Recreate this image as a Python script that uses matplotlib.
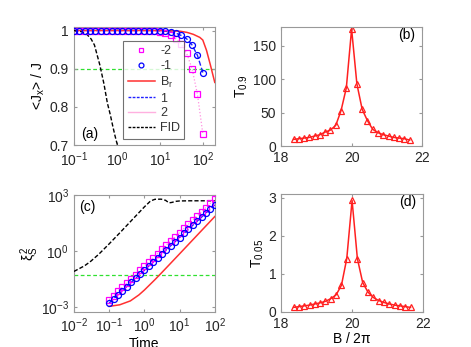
import numpy as np
import matplotlib
matplotlib.use('Agg')
from matplotlib import pyplot as plt

plt.rcParams['font.family'] = ['Liberation Sans', 'DejaVu Sans']
plt.rcParams['mathtext.fontset'] = 'custom'
plt.rcParams['mathtext.rm'] = 'Liberation Sans'
plt.rcParams['mathtext.it'] = 'Liberation Sans'

# sample times for the marker series
t_mark = [0.1, 0.133, 0.178, 0.237, 0.316, 0.422, 0.562, 0.75, 1.0, 1.33, 1.78, 2.37,
          3.16, 4.22, 5.62, 7.5, 10, 13.3, 17.8, 23.7, 31.6, 42.2, 56.2, 75, 100]

# (a) polarisation
jx_m2 = [1, 1, 1, 1, 1, 1, 1, 1, 1, 1, 1, 1, 1, 1, 1, 0.999, 0.997, 0.993, 0.987,
         0.978, 0.965, 0.94, 0.90, 0.833, 0.73]
jx_m1 = [1, 1, 1, 1, 1, 1, 1, 1, 1, 1, 1, 1, 1, 1, 1, 1, 0.999, 0.998, 0.996,
         0.993, 0.987, 0.978, 0.962, 0.935, 0.89]
t_br = [0.1, 1, 10, 20, 30, 43, 60, 85, 100, 122, 150, 190]
jx_br = [1, 1, 1, 0.999, 0.998, 0.995, 0.99, 0.982, 0.975, 0.948, 0.91, 0.864]
t_fid = [0.1, 0.15, 0.2, 0.25, 0.3, 0.4, 0.5, 0.6, 0.7, 0.8, 0.9, 1.0, 1.1]
jx_fid = [1.0, 0.997, 0.99, 0.978, 0.962, 0.91, 0.86, 0.81, 0.78, 0.75, 0.725, 0.705, 0.69]

# (c) squeezing
xi_m2 = [0.0024, 0.0040, 0.0068, 0.0114, 0.0191, 0.0321, 0.054, 0.0905, 0.152, 0.255,
         0.428, 0.72, 1.21, 2.03, 3.40, 5.7, 9.6, 16.1, 27, 45, 76, 128, 214, 360, 605]
xi_m1 = [0.0016, 0.0027, 0.0045, 0.0075, 0.0124, 0.0206, 0.034, 0.056, 0.093, 0.155,
         0.256, 0.423, 0.70, 1.16, 1.92, 3.18, 5.26, 8.7, 14.4, 23.8, 39.4, 65, 108, 179, 296]
t_br_c = [0.1, 0.2, 0.4, 0.7, 1, 2, 3, 5, 10, 20, 50, 100]
xi_br = [0.00107, 0.0013, 0.0021, 0.0044, 0.008, 0.029, 0.064, 0.176, 0.7, 2.8, 17.5, 70]
t_fid_c = [0.01, 0.02, 0.03, 0.05, 0.1, 0.2, 0.5, 1.0, 1.5, 2.0, 3.0, 4.0, 5.0, 6.0,
           8.0, 10, 20, 50, 100]
xi_fid = [0.08, 0.16, 0.28, 0.65, 2.4, 9.3, 58, 230, 480, 590, 600, 520, 380, 400,
          460, 480, 490, 490, 490]

# (b), (d) thresholds vs field
B = [18.35, 18.5, 18.65, 18.8, 18.95, 19.1, 19.25, 19.4, 19.55, 19.7, 19.85, 20.0,
     20.15, 20.3, 20.45, 20.6, 20.75, 20.9, 21.05, 21.2, 21.35, 21.5, 21.65]
T09 = [10, 11, 12, 13, 15, 17, 21, 24, 31, 53, 87, 175,
       93, 55, 38, 25, 20, 17, 15, 13, 12, 11, 9]
T005 = [0.12, 0.14, 0.16, 0.18, 0.21, 0.24, 0.28, 0.35, 0.45, 0.70, 1.40, 2.93,
        1.40, 0.77, 0.52, 0.38, 0.30, 0.25, 0.21, 0.18, 0.16, 0.14, 0.12]

fs = 10
fig = plt.figure(figsize=(4.71, 3.47), dpi=100)
axa = fig.add_axes([0.157, 0.582, 0.299, 0.340])
axb = fig.add_axes([0.597, 0.579, 0.299, 0.343])
axc = fig.add_axes([0.157, 0.101, 0.299, 0.337])
axd = fig.add_axes([0.597, 0.101, 0.301, 0.340])

for ax in [axa, axb, axc, axd]:
    for s in ax.spines.values():
        s.set_color('0.6')
        s.set_linewidth(0.8)
    ax.tick_params(direction='in', length=2.5, color='0.6', labelsize=fs,
                   labelcolor='0.15', which='both', top=True, right=True)
    ax.minorticks_off()

# (a)
axa.plot(t_mark, jx_m2, color='#ff90e0', lw=0.9, ls=':', zorder=2)
axa.plot(t_mark, jx_m1, color='#2020ff', lw=1.0, ls='--', zorder=2)
axa.plot(t_br, jx_br, color='#ff3030', lw=1.1, label='B$_r$', zorder=3)
axa.plot(t_fid, jx_fid, color='k', lw=1.0, ls='--', dashes=(3, 1.5), zorder=3)
axa.plot(t_mark, jx_m2, ls='none', marker='s', ms=4, mfc='none', mec='#ff00ff',
         mew=0.9, zorder=4)
axa.plot(t_mark, jx_m1, ls='none', marker='o', ms=4.3, mfc='none', mec='#0000ff',
         mew=0.9, zorder=4)
axa.axhline(0.9, color='#30e030', lw=0.9, ls='--', dashes=(3, 2), zorder=1)
axa.set_xscale('log')
axa.minorticks_off()
axa.set_xlim(0.1, 190)
axa.set_ylim(0.7, 1.009)
axa.set_xticks([0.1, 1, 10, 100])
axa.set_yticks([0.7, 0.8, 0.9, 1.0])
axa.set_yticklabels(['0.7', '0.8', '0.9', '1'])
axa.set_ylabel(r'<J$_x$> / J', fontsize=fs, labelpad=2)
axa.text(0.05, 0.06, '(a)', transform=axa.transAxes, fontsize=fs)

handles = [
    plt.Line2D([], [], ls='none', marker='s', ms=3.5, mfc='none', mec='#ff00ff', mew=0.9),
    plt.Line2D([], [], ls='none', marker='o', ms=3.5, mfc='none', mec='#0000ff', mew=0.9),
    plt.Line2D([], [], color='#ff3030', lw=1.1),
    plt.Line2D([], [], color='#2020ff', lw=1.0, ls='--', dashes=(2, 1)),
    plt.Line2D([], [], color='#ffb0e0', lw=1.0),
    plt.Line2D([], [], color='k', lw=1.0, ls='--', dashes=(2, 1)),
]
leg = axa.legend(handles, ['-2', '-1', 'B$_r$', '1', '2', 'FID'],
                 loc='lower left', bbox_to_anchor=(0.35, 0.055), fontsize=9,
                 frameon=True, fancybox=False, edgecolor='0.3', handlelength=2.2,
                 handletextpad=0.4, borderpad=0.35, labelspacing=0.22,
                 borderaxespad=0)
leg.get_frame().set_linewidth(0.8)
for txt in leg.get_texts():
    txt.set_color('0.2')

# (c)
axc.plot(t_mark, xi_m2, color='#ff90e0', lw=0.9, ls=':', zorder=2)
axc.plot(t_mark, xi_m1, color='#2020ff', lw=1.0, ls='--', zorder=2)
axc.plot(t_br_c, xi_br, color='#ff3030', lw=1.1, zorder=3)
axc.plot(t_fid_c, xi_fid, color='k', lw=1.0, ls='--', dashes=(3, 1.5), zorder=3)
axc.plot(t_mark, xi_m2, ls='none', marker='s', ms=4, mfc='none', mec='#ff00ff',
         mew=0.9, zorder=4)
axc.plot(t_mark, xi_m1, ls='none', marker='o', ms=4.3, mfc='none', mec='#0000ff',
         mew=0.9, zorder=4)
axc.axhline(0.05, color='#30e030', lw=0.9, ls='--', dashes=(3, 2), zorder=1)
axc.set_xscale('log')
axc.set_yscale('log')
axc.minorticks_off()
axc.set_xlim(0.01, 100)
axc.set_ylim(10 ** -3.27, 1000)
axc.set_xticks([0.01, 0.1, 1, 10, 100])
axc.set_yticks([1e-3, 1, 1e3])
axc.set_ylabel(r'$\xi_S^2$', fontsize=fs, labelpad=0)
axc.set_xlabel('Time', fontsize=fs, labelpad=1)
axc.text(0.04, 0.86, '(c)', transform=axc.transAxes, fontsize=fs)

# (b)
axb.plot(B, T09, color='#ff2020', lw=1.1, marker='^', ms=4.5, mfc='none', mec='#ff2020',
         mew=0.9)
axb.set_xlim(18, 22)
axb.set_ylim(0, 178)
axb.set_xticks([18, 20, 22])
axb.set_yticks([0, 50, 100, 150])
axb.set_ylabel('T$_{0.9}$', fontsize=fs, labelpad=2)
axb.text(0.95, 0.9, '(b)', transform=axb.transAxes, fontsize=fs, ha='right')

# (d)
axd.plot(B, T005, color='#ff2020', lw=1.1, marker='^', ms=4.5, mfc='none', mec='#ff2020',
         mew=0.9)
axd.set_xlim(18, 22)
axd.set_ylim(0, 3.1)
axd.set_xticks([18, 20, 22])
axd.set_yticks([0, 1, 2, 3])
axd.set_ylabel('T$_{0.05}$', fontsize=fs, labelpad=2)
axd.set_xlabel(r'B / 2$\pi$', fontsize=fs, labelpad=0)
axd.text(0.95, 0.9, '(d)', transform=axd.transAxes, fontsize=fs, ha='right')

fig.savefig('out.png', dpi=100)
